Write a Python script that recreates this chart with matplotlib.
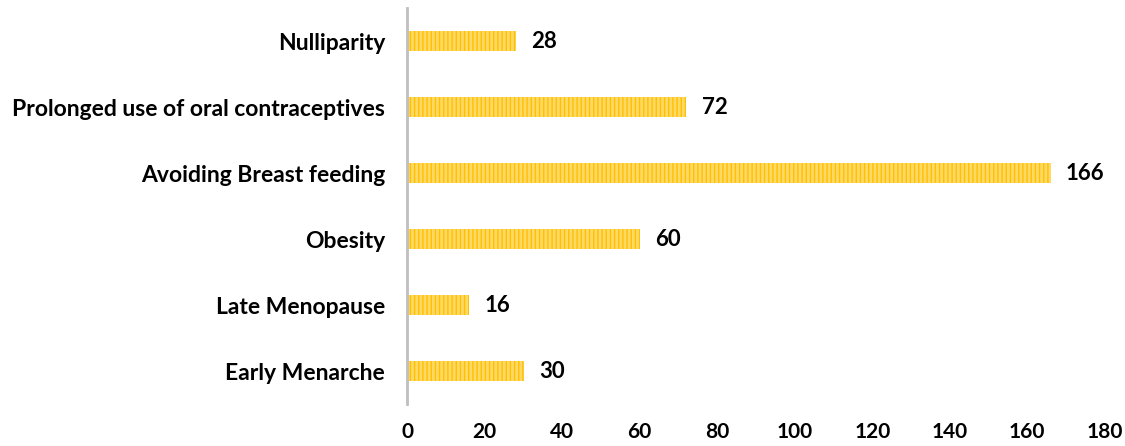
import matplotlib
matplotlib.use("Agg")
import matplotlib.pyplot as plt

categories = ["Early Menarche", "Late Menopause", "Obesity",
              "Avoiding Breast feeding", "Prolonged use of oral contraceptives",
              "Nulliparity"]
values = [30, 16, 60, 166, 72, 28]
xticks = [0, 20, 40, 60, 80, 100, 120, 140, 160, 180]

plt.rcParams["font.family"] = ["Lato", "DejaVu Sans"]
plt.rcParams["hatch.linewidth"] = 1.0

fig = plt.figure(figsize=(11.25, 4.46), dpi=100)
ax = fig.add_axes([0.362, 0.094, 0.62, 0.888])

ypos = range(len(categories))
ax.barh(ypos, values, height=0.3, color="#FFD966", edgecolor="#FFC000",
        hatch="||||", linewidth=0)

for y, v in zip(ypos, values):
    ax.text(v + 4, y, str(v), va="center", ha="left",
            fontsize=16, fontweight="bold", color="black")

ax.set_xlim(0, 180)
ax.set_ylim(-0.5, len(categories) - 0.5)
ax.set_yticks(list(ypos))
ax.set_yticklabels(categories, fontsize=16.5, fontweight="bold")
ax.set_xticks(xticks)
ax.set_xticklabels([str(t) for t in xticks], fontsize=15, fontweight="bold")

for side in ["top", "right", "bottom"]:
    ax.spines[side].set_visible(False)
ax.spines["left"].set_color("#BFBFBF")
ax.spines["left"].set_linewidth(2)
ax.tick_params(axis="both", length=0)
ax.tick_params(axis="y", pad=16)
ax.tick_params(axis="x", pad=13)

fig.savefig("out.png", dpi=100)
